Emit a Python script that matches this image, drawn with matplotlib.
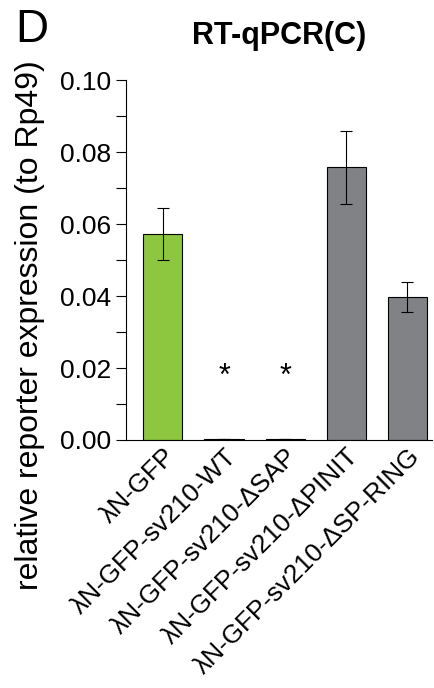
import numpy as np
import matplotlib.pyplot as plt
from matplotlib.ticker import MultipleLocator

plt.rcParams['font.family'] = ['Liberation Sans', 'DejaVu Sans']

labels = ['λN-GFP', 'λN-GFP-sv210-WT', 'λN-GFP-sv210-ΔSAP',
          'λN-GFP-sv210-ΔPINIT', 'λN-GFP-sv210-ΔSP-RING']
values = [0.0573, 0.0003, 0.0003, 0.0758, 0.0397]
errors = [0.0072, 0.0, 0.0, 0.0102, 0.0042]
colors = ['#8dc63f', '#808285', '#808285', '#808285', '#808285']
stars = [1, 2]  # bars marked significant

fig = plt.figure(figsize=(4.35, 6.88), dpi=100)
ax = fig.add_axes([0.29, 0.3605, 0.703, 0.523])

x = np.arange(len(labels))
ax.bar(x, values, width=0.64, color=colors, edgecolor='black', linewidth=0.8)
ax.errorbar(x, values, yerr=errors, fmt='none', ecolor='black',
            elinewidth=0.8, capsize=4, capthick=0.8)
for i in stars:
    ax.text(i, 0.0175, '*', ha='center', va='center', fontsize=22)

ax.set_xlim(-0.6, 4.4)
ax.set_ylim(0, 0.1)
ax.yaxis.set_major_locator(MultipleLocator(0.02))
ax.yaxis.set_minor_locator(MultipleLocator(0.01))
ax.yaxis.set_major_formatter(plt.FormatStrFormatter('%.2f'))
ax.tick_params(axis='y', which='both', length=7, width=0.8, labelsize=19, pad=4)
ax.tick_params(axis='x', length=0, labelsize=18.8, pad=3)
ax.set_xticks(x)
ax.set_xticklabels(labels, rotation=45, ha='right', rotation_mode='anchor')

for s in ['top', 'right']:
    ax.spines[s].set_visible(False)
for s in ['left', 'bottom']:
    ax.spines[s].set_linewidth(0.8)

fig.text(0.068, 0.527, 'relative reporter expression (to Rp49)', fontsize=23,
         rotation=90, ha='center', va='center')
ax.set_title('RT-qPCR(C)', fontsize=22, fontweight='bold', pad=26)
fig.text(0.035, 0.957, 'D', fontsize=33, ha='left', va='center')

fig.savefig('out.png', dpi=100)
